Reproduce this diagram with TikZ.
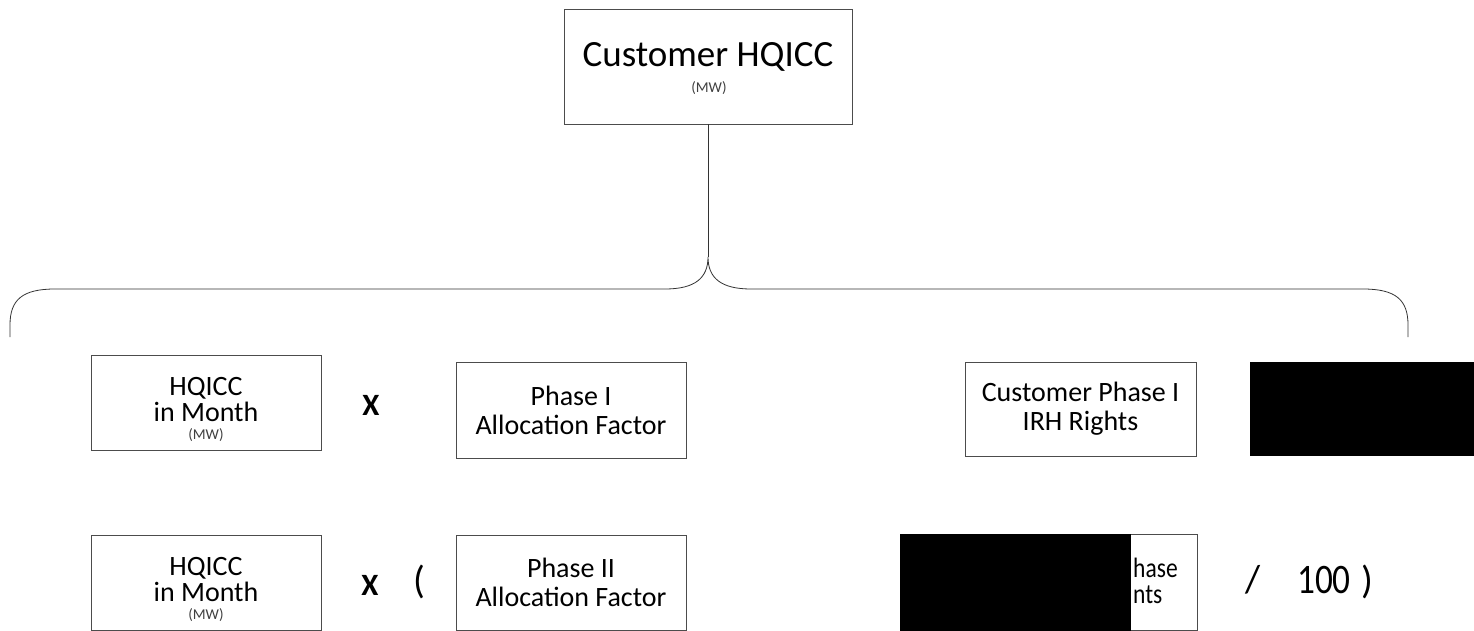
\documentclass[tikz,border=0pt]{standalone}
\usepackage{fontspec}
\setmainfont{Carlito}
\newfontfamily\narrowfont{Carlito}[FakeStretch=0.84]
\begin{document}
\begin{tikzpicture}[x=1pt,y=-1pt,
  box/.style={draw=black!70,line width=0.9pt,fill=white,align=center,inner sep=0pt},
  big/.style={font=\fontsize{37}{40}\selectfont,anchor=base},
  mid/.style={font=\fontsize{28}{29}\selectfont},
  lft/.style={font=\fontsize{28}{25}\selectfont,anchor=base,inner sep=0pt},
  sm/.style={font=\fontsize{15}{15}\selectfont,text=black!75,inner sep=0pt},
  op/.style={font=\fontsize{31}{31}\selectfont\bfseries},
  paren/.style={font=\fontsize{39}{44}\selectfont},
  cut/.style={font=\fontsize{28}{28}\selectfont\narrowfont,anchor=base west,inner sep=0pt},
  conn/.style={draw=black!80,line width=0.8pt}]
\useasboundingbox (0,0) rectangle (1474,631);
% top
\node[box,minimum width=288pt,minimum height=115pt] (top) at (708,66.5) {};
\node[big] (toptxt) at (708,67) {Customer HQICC};
\node[sm] (topmw) at (709,88) {(MW)};
% row 1
\node[box,minimum width=230pt,minimum height=95pt] (A) at (206,402.5) {};
\node[lft] (Atxt1) at (206,395) {HQICC};
\node[lft] (Atxt2) at (206,421) {in Month};
\node[sm] (Amw) at (206,435) {(MW)};
\node[op] (x1) at (371,405) {X};
\node[box,minimum width=230pt,minimum height=96pt,mid] (B) at (571,410) {Phase I\\Allocation Factor};
\node[box,minimum width=231pt,minimum height=94pt,mid] (C) at (1080.5,409) {Customer Phase I\\IRH Rights};
\fill[black] (1250,362) rectangle (1474,456);
% row 2
\node[box,minimum width=230pt,minimum height=95pt] (D) at (206,582.5) {};
\node[lft] (Dtxt1) at (206,575) {HQICC};
\node[lft] (Dtxt2) at (206,601) {in Month};
\node[sm] (Dmw) at (206,615) {(MW)};
\node[op] (x2) at (370,585) {X};
\node[paren] (lp) at (419,582) {(};
\node[box,minimum width=230pt,minimum height=95pt,mid] (E) at (571,582.5) {Phase II\\Allocation Factor};
\node[box,minimum width=232pt,minimum height=96pt] (F) at (1081,582.5) {};
\fill[black] (900,534) rectangle (1131,631);
\node[cut] (Ftxt1) at (1133,577) {hase};
\node[cut] (Ftxt2) at (1133,603) {nts};
\node[paren] (sl) at (1253,580) {/};
\node[font=\fontsize{42}{42}\selectfont\narrowfont] (hund) at (1324,580) {100};
\node[paren] (rp) at (1367,582) {)};
% brace
\coordinate (tip) at (708,257);
\draw[conn] (top.south) -- (tip);
\draw[conn] (10,337) -- (10,325) .. controls (10,300) and (22,289) .. (55,289)
  -- (665,289) .. controls (695,289) and (708,278) .. (tip)
  .. controls (708,278) and (721,289) .. (751,289)
  -- (1363,289) .. controls (1396,289) and (1408,300) .. (1408,325) -- (1408,337);
\end{tikzpicture}
\end{document}
